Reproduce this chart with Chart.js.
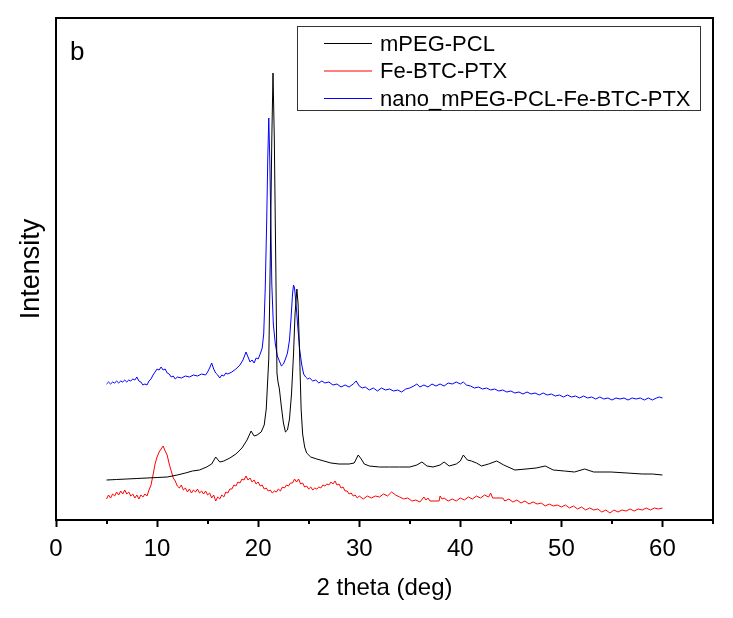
<!DOCTYPE html>
<html>
<head>
<meta charset="utf-8">
<script src="https://cdn.jsdelivr.net/npm/chart.js@4.4.1/dist/chart.umd.min.js"></script>
<style>
  html, body { margin: 0; padding: 0; background: #fff; }
  #wrap { width: 733px; height: 618px; }
</style>
</head>
<body>
<div id="wrap"><canvas id="xrd" width="733" height="618"></canvas></div>
<script>
// 2 theta (deg) / intensity (arbitrary units)
const seriesNames = ["mPEG-PCL", "Fe-BTC-PTX", "nano_mPEG-PCL-Fe-BTC-PTX"];
const seriesColors = ["#000000", "#ff0000", "#0000ff"];

const blackX = [5, 6, 7, 8, 9, 10, 11, 12, 12.8, 13.5, 14.2, 14.9, 15.4, 15.8, 16.2, 16.6, 17.2, 17.8, 18.4, 18.9,
  19.3, 19.6, 19.9, 20.3, 20.6, 20.8, 21.05, 21.2, 21.35, 21.47, 21.6, 21.75, 21.86, 21.95, 22.1, 22.3, 22.5, 22.7, 22.9, 23.1,
  23.3, 23.5, 23.65, 23.83, 23.95, 24.1, 24.25, 24.4, 24.6, 24.8, 25.2, 25.8, 26.5, 27.2, 28, 29, 29.5, 29.9, 30.2, 30.5,
  31, 32, 33, 34, 35, 35.7, 36.2, 36.7, 37.3, 38, 38.4, 38.9, 39.6, 40, 40.3, 40.7, 41.1, 41.6, 42.1, 42.8,
  43.6, 44.3, 45.4, 46.5, 47.5, 48.4, 49.2, 50.3, 51.3, 52.3, 53.2, 54.9, 56.5, 58, 59, 60];
const blackY = [39, 39.5, 40, 40.5, 41, 41.5, 42, 44, 46, 48, 49, 52, 55, 62, 57, 58, 61, 65, 71, 79,
  88, 83, 84, 87, 94, 110, 160, 260, 380, 446, 380, 250, 146, 138, 130, 112, 96, 87, 89, 100,
  125, 165, 205, 230, 215, 165, 110, 85, 72, 66, 62, 60, 58, 56, 55, 55, 56, 64, 60, 55,
  53, 52, 52, 52, 52, 54, 57, 53, 52, 54, 57, 53, 55, 58, 64, 59, 58, 56, 53, 55,
  58, 54, 49, 50, 51, 53, 49, 48, 47, 50, 47, 47, 46, 45, 45, 44];

const redX = [5, 5.2, 5.4, 5.6, 5.8, 6, 6.2, 6.4, 6.6, 6.8, 7, 7.2, 7.4, 7.6, 7.8, 8, 8.2, 8.4, 8.6, 8.8,
  9, 9.2, 9.4, 9.6, 9.8, 10, 10.2, 10.4, 10.6, 10.8, 11, 11.2, 11.4, 11.6, 11.8, 12, 12.2, 12.4, 12.6, 12.8,
  13, 13.2, 13.4, 13.6, 13.8, 14, 14.2, 14.4, 14.6, 14.8, 15, 15.2, 15.4, 15.6, 15.8, 16, 16.2, 16.4, 16.6, 16.8,
  17, 17.2, 17.4, 17.6, 17.8, 18, 18.2, 18.4, 18.6, 18.8, 19, 19.2, 19.4, 19.6, 19.8, 20, 20.2, 20.4, 20.6, 20.8,
  21, 21.2, 21.4, 21.6, 21.8, 22, 22.2, 22.4, 22.6, 22.8, 23, 23.2, 23.4, 23.6, 23.8, 24, 24.2, 24.4, 24.6, 24.8,
  25, 25.2, 25.4, 25.6, 25.8, 26, 26.2, 26.4, 26.6, 26.8, 27, 27.2, 27.4, 27.6, 27.8, 28, 28.2, 28.4, 28.6, 28.8,
  29, 29.2, 29.4, 29.6, 29.8, 30, 30.4, 30.8, 31.2, 31.6, 32, 32.4, 32.8, 33.2, 33.6, 34, 34.4, 34.8, 35.2, 35.6,
  36, 36.4, 36.6, 36.8, 37, 37.9, 38, 38.2, 38.4, 38.8, 39.2, 39.6, 40, 40.4, 40.8, 41.2, 41.6, 42, 42.4, 42.8,
  43, 43.2, 44.2, 44.4, 44.8, 45.2, 45.6, 46, 46.4, 46.8, 47.2, 47.6, 48, 48.4, 48.8, 49.2, 49.6, 50, 50.4, 50.8,
  51.2, 51.6, 52, 52.4, 52.8, 53.2, 53.6, 54, 54.4, 54.8, 55.2, 55.6, 56, 56.4, 56.8, 57.2, 57.6, 58, 58.4, 58.8,
  59.2, 59.6, 60];
const redY = [20, 24, 21, 25, 23, 27, 24, 28, 25, 29, 25, 27, 23, 25, 21, 24, 20, 24, 22, 25,
  23, 29, 34, 44, 55, 62, 67, 70, 73, 68, 64, 55, 48, 41, 38, 33, 31, 34, 29, 31,
  27, 30, 26, 29, 27, 30, 26, 28, 25, 28, 24, 26, 21, 24, 18, 22, 20, 24, 22, 27,
  26, 30, 30, 34, 33, 37, 36, 40, 39, 43, 39, 41, 37, 39, 35, 37, 33, 34, 30, 31,
  28, 29, 26, 28, 27, 30, 28, 32, 31, 34, 33, 36, 36, 40, 37, 40, 35, 36, 32, 33,
  30, 32, 29, 31, 30, 32, 31, 34, 33, 35, 34, 37, 35, 38, 34, 35, 31, 32, 28, 28,
  25, 26, 23, 24, 21, 23, 20, 23, 21, 23, 22, 25, 23, 27, 24, 22, 20, 21, 18, 19,
  17, 22, 19, 21, 18, 18, 23, 20, 21, 18, 20, 18, 21, 19, 22, 20, 23, 21, 24, 22,
  26, 21, 21, 18, 20, 17, 19, 16, 18, 15, 17, 15, 16, 13, 15, 13, 14, 12, 14, 11,
  13, 10, 12, 9, 11, 9, 10, 7, 9, 6, 9, 7, 9, 8, 10, 8, 10, 9, 11, 9,
  11, 10, 11];

const blueX = [5, 5.2, 5.4, 5.6, 5.8, 6, 6.2, 6.4, 6.6, 6.8, 7, 7.2, 7.4, 7.6, 7.8, 8, 8.2, 8.4, 8.6, 8.8,
  9, 9.2, 9.4, 9.6, 9.8, 10, 10.2, 10.4, 10.6, 10.8, 11, 11.2, 11.4, 11.6, 11.8, 12, 12.4, 12.8, 13.2, 13.6,
  14, 14.4, 14.8, 15, 15.2, 15.4, 15.6, 15.8, 16, 16.2, 16.4, 16.6, 16.8, 17, 17.4, 17.8, 18.2, 18.5, 18.8, 19,
  19.2, 19.4, 19.6, 19.8, 20, 20.2, 20.4, 20.55, 20.7, 20.85, 20.95, 21.05, 21.15, 21.25, 21.35, 21.5, 21.7, 21.9, 22.1, 22.3,
  22.5, 22.7, 22.9, 23.1, 23.25, 23.4, 23.5, 23.6, 23.75, 23.9, 24.1, 24.3, 24.5, 24.7, 24.9, 25.1, 25.4, 25.7, 26, 26.3,
  26.6, 27, 27.4, 27.8, 28.2, 28.6, 29, 29.4, 29.7, 30, 30.3, 30.6, 31, 31.4, 31.8, 32.2, 32.6, 33, 33.4, 33.8,
  34.2, 34.6, 35, 35.4, 35.7, 36, 36.4, 36.8, 37.2, 37.6, 38, 38.4, 38.8, 39.2, 39.6, 40, 40.3, 40.6, 41, 41.4,
  41.8, 42.2, 42.6, 43, 43.4, 43.8, 44.2, 44.6, 45, 45.4, 45.8, 46.2, 46.6, 47, 47.4, 47.8, 48.2, 48.6, 49, 49.4,
  49.8, 50.2, 50.6, 51, 51.4, 51.8, 52.2, 52.6, 53, 53.4, 53.8, 54.2, 54.6, 55, 55.4, 55.8, 56.2, 56.6, 57, 57.4,
  57.8, 58.2, 58.6, 59, 59.4, 59.7, 60];
const blueY = [135, 137, 135, 137, 136, 138, 136, 138, 137, 139, 137, 139, 138, 140, 139, 142, 138, 137, 134, 135,
  134, 138, 140, 144, 147, 150, 149, 152, 149, 150, 146, 145, 142, 143, 140, 142, 141, 143, 142, 144,
  143, 145, 144, 147, 151, 156, 150, 146, 144, 141, 144, 143, 146, 145, 147, 150, 154, 159, 167, 162,
  157, 159, 156, 161, 160, 165, 171, 185, 230, 300, 360, 401, 360, 300, 235, 195, 175, 163, 158, 153,
  155, 160, 166, 179, 200, 225, 234, 231, 215, 195, 170, 155, 145, 142, 140, 141, 138, 139, 136, 138,
  136, 137, 134, 135, 132, 134, 132, 135, 138, 133, 131, 132, 129, 131, 128, 131, 129, 130, 128, 129,
  127, 130, 131, 133, 135, 132, 134, 132, 135, 133, 135, 133, 136, 135, 137, 135, 137, 134, 133, 131,
  132, 130, 131, 129, 130, 128, 129, 127, 128, 126, 127, 125, 127, 125, 126, 124, 126, 124, 125, 123,
  124, 122, 124, 122, 123, 121, 123, 121, 122, 120, 122, 120, 121, 119, 121, 120, 121, 119, 121, 120,
  121, 119, 121, 119, 121, 122, 121];

const xTickValues = [0, 10, 20, 30, 40, 50, 60];
const xMinorValues = [5, 15, 25, 35, 45, 55, 65];

const fontFamily = "'Liberation Sans', Arial, sans-serif";

function toPoints(xs, ys) {
  return xs.map(function (x, i) {
    return { x: x, y: ys[i] };
  });
}

// frame, minor ticks, legend box and panel letter
const decorPlugin = {
  id: "decor",
  afterDraw: function (chart) {
    const ctx = chart.ctx;
    const a = chart.chartArea;
    const xs = chart.scales.x;
    ctx.save();
    ctx.strokeStyle = "#000";
    ctx.lineWidth = 2;
    ctx.strokeRect(a.left, a.top, a.right - a.left, a.bottom - a.top);

    xMinorValues.forEach(function (v) {
      const px = Math.round(xs.getPixelForValue(v));
      ctx.beginPath();
      ctx.moveTo(px, a.bottom);
      ctx.lineTo(px, a.bottom + 4);
      ctx.stroke();
    });

    // legend
    ctx.lineWidth = 1;
    ctx.strokeStyle = "#333";
    ctx.strokeRect(297.5, 26.5, 403, 84);
    ctx.font = "22px " + fontFamily;
    ctx.textBaseline = "middle";
    ctx.fillStyle = "#000";
    chart.data.datasets.forEach(function (ds, i) {
      const y = 43.5 + i * 27.5;
      ctx.strokeStyle = ds.borderColor;
      ctx.beginPath();
      ctx.moveTo(324, y);
      ctx.lineTo(372, y);
      ctx.stroke();
      ctx.fillText(ds.label, 380, y + 1);
    });

    ctx.font = "26px " + fontFamily;
    ctx.textBaseline = "alphabetic";
    ctx.fillText("b", 70, 60);
    ctx.restore();
  },
};

const datasets = [
  { label: seriesNames[0], data: toPoints(blackX, blackY), borderColor: seriesColors[0] },
  { label: seriesNames[1], data: toPoints(redX, redY), borderColor: seriesColors[1] },
  { label: seriesNames[2], data: toPoints(blueX, blueY), borderColor: seriesColors[2] },
].map(function (ds) {
  return Object.assign(ds, {
    borderWidth: 1,
    pointRadius: 0,
    tension: 0,
    fill: false,
  });
});

new Chart(document.getElementById("xrd"), {
  type: "line",
  data: { datasets: datasets },
  options: {
    responsive: false,
    animation: false,
    devicePixelRatio: 1,
    layout: { padding: { top: 18, right: 20, left: 0, bottom: 0 } },
    plugins: {
      legend: { display: false },
      tooltip: { enabled: false },
    },
    scales: {
      x: {
        type: "linear",
        min: 0,
        max: 65,
        afterFit: function (s) {
          s.height = 98;
        },
        afterBuildTicks: function (s) {
          s.ticks = xTickValues.map(function (v) {
            return { value: v };
          });
        },
        grid: {
          drawOnChartArea: false,
          drawTicks: true,
          tickLength: 7,
          tickWidth: 2,
          tickColor: "#000",
        },
        border: { display: true, color: "#000", width: 2 },
        ticks: {
          color: "#000",
          padding: 8,
          maxRotation: 0,
          font: { family: fontFamily, size: 24 },
        },
        title: {
          display: true,
          text: "2 theta (deg)",
          color: "#000",
          font: { family: fontFamily, size: 24 },
          padding: { top: 0, bottom: 15 },
        },
      },
      y: {
        type: "linear",
        min: -1,
        max: 501,
        afterFit: function (s) {
          s.width = 56;
        },
        grid: { drawOnChartArea: false, drawTicks: false },
        border: { display: true, color: "#000", width: 2 },
        ticks: { display: false },
        title: {
          display: true,
          text: "Intensity",
          color: "#000",
          font: { family: fontFamily, size: 27 },
          padding: { top: 15, bottom: 0 },
        },
      },
    },
  },
  plugins: [decorPlugin],
});
</script>
</body>
</html>
